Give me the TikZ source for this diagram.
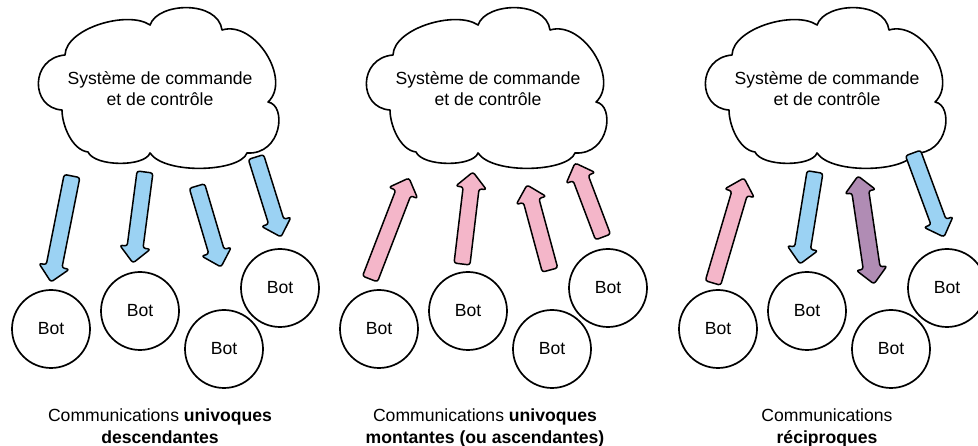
\documentclass[tikz,border=0pt]{standalone}
\usepackage{fontspec}
\setmainfont{Liberation Sans}
\usetikzlibrary{calc}
\definecolor{arrblue}{RGB}{155,210,243}
\definecolor{arrpink}{RGB}{244,182,201}
\definecolor{arrpurple}{RGB}{176,140,180}
\tikzset{
 cloudline/.style={draw=black, fill=white, line width=1.6pt, line join=round},
 botnode/.style={circle, draw=black, fill=white, line width=1.7pt, minimum size=78pt, inner sep=0pt, font=\fontsize{17.6}{21}\selectfont},
 txt/.style={font=\fontsize{17.6}{21}\selectfont, inner sep=0pt, anchor=base},
 barrow/.style={draw=black, line width=1.5pt, rounded corners=2.5pt, line join=round},
 bluearrow/.style={barrow, fill=arrblue},
 pinkarrow/.style={barrow, fill=arrpink},
 purplearrow/.style={barrow, fill=arrpurple},
}
\newcommand{\mycloud}[1]{%
\begin{scope}[xshift=#1pt]
\draw[cloudline] (65,55) .. controls (66,28) and (128,10) .. (150,25)
 .. controls (158,2) and (218,0) .. (222,30)
 .. controls (255,20) and (292,80) .. (268,102)
 .. controls (287,105) and (282,155) .. (247,153)
 .. controls (240,172) and (165,175) .. (150,153)
 .. controls (145,167) and (95,167) .. (88,152)
 .. controls (72,150) and (62,125) .. (62,110)
 .. controls (30,108) and (30,58) .. (65,55) -- cycle;
\end{scope}}
% single block arrow: style, tail, tip
\newcommand{\blockarrow}[3]{%
\coordinate (#2h) at ($(#3)!16pt!(#2)$);
\draw[#1] ($(#2)!8pt!90:(#3)$) -- ($(#2h)!8pt!90:(#3)$) -- ($(#2h)!15.5pt!90:(#3)$)
 -- (#3) -- ($(#2h)!15.5pt!-90:(#3)$) -- ($(#2h)!8pt!-90:(#3)$) -- ($(#2)!8pt!-90:(#3)$) -- cycle;}
% double block arrow: style, end1, end2
\newcommand{\dblarrow}[3]{%
\coordinate (#2h) at ($(#2)!16pt!(#3)$);
\coordinate (#3h) at ($(#3)!16pt!(#2)$);
\draw[#1] (#2) -- ($(#2h)!15.5pt!90:(#3)$) -- ($(#2h)!8.5pt!90:(#3)$) -- ($(#3h)!8.5pt!90:(#3)$)
 -- ($(#3h)!15.5pt!90:(#3)$) -- (#3) -- ($(#3h)!15.5pt!-90:(#3)$) -- ($(#3h)!8.5pt!-90:(#3)$)
 -- ($(#2h)!8.5pt!-90:(#3)$) -- ($(#2h)!15.5pt!-90:(#3)$) -- cycle;}
\begin{document}
\begin{tikzpicture}[x=1pt,y=-1pt]
\useasboundingbox[fill=white] (0,0) rectangle (978,446);
% ---------- clouds ----------
\mycloud{0}
\mycloud{328}
\mycloud{667}
\node[txt] (t1a) at (160,85) {Système de commande};
\node[txt] (t1b) at (160,106) {et de contrôle};
\node[txt] (t2a) at (488,85) {Système de commande};
\node[txt] (t2b) at (488,106) {et de contrôle};
\node[txt] (t3a) at (827,85) {Système de commande};
\node[txt] (t3b) at (827,106) {et de contrôle};
% ---------- bots ----------
\node[botnode] (b11) at (51,329) {Bot};
\node[botnode] (b12) at (140,311) {Bot};
\node[botnode] (b13) at (224,349) {Bot};
\node[botnode] (b14) at (280,288) {Bot};
\node[botnode] (b21) at (379,329) {Bot};
\node[botnode] (b22) at (468,311) {Bot};
\node[botnode] (b23) at (552,349) {Bot};
\node[botnode] (b24) at (608,288) {Bot};
\node[botnode] (b31) at (718,329) {Bot};
\node[botnode] (b32) at (807,311) {Bot};
\node[botnode] (b33) at (891,349) {Bot};
\node[botnode] (b34) at (947,288) {Bot};
% ---------- arrow end points ----------
\coordinate (a1s) at (72,176);  \coordinate (a1e) at (51,282);
\coordinate (a2s) at (145,172); \coordinate (a2e) at (133,263);
\coordinate (a3s) at (197,186); \coordinate (a3e) at (221,267);
\coordinate (a4s) at (256,157); \coordinate (a4e) at (281,237);
\coordinate (p1s) at (370,279); \coordinate (p1e) at (409,178);
\coordinate (p2s) at (462,264); \coordinate (p2e) at (473,172);
\coordinate (p3s) at (550,270); \coordinate (p3e) at (527,185);
\coordinate (p4s) at (603,237); \coordinate (p4e) at (575,163);
\coordinate (c1s) at (713,283); \coordinate (c1e) at (744,178);
\coordinate (c2s) at (815,172); \coordinate (c2e) at (800,264);
\coordinate (c3s) at (858,176); \coordinate (c3e) at (874,284);
\coordinate (c4s) at (913,153); \coordinate (c4e) at (944,237);
% ---------- arrows ----------
\blockarrow{bluearrow}{a1s}{a1e}
\blockarrow{bluearrow}{a2s}{a2e}
\blockarrow{bluearrow}{a3s}{a3e}
\blockarrow{bluearrow}{a4s}{a4e}
\blockarrow{pinkarrow}{p1s}{p1e}
\blockarrow{pinkarrow}{p2s}{p2e}
\blockarrow{pinkarrow}{p3s}{p3e}
\blockarrow{pinkarrow}{p4s}{p4e}
\blockarrow{pinkarrow}{c1s}{c1e}
\blockarrow{bluearrow}{c2s}{c2e}
\dblarrow{purplearrow}{c3s}{c3e}
\blockarrow{bluearrow}{c4s}{c4e}
% ---------- captions ----------
\node[txt] (k1a) at (160,422) {Communications \textbf{univoques}};
\node[txt] (k1b) at (160,443) {\textbf{descendantes}};
\node[txt] (k2a) at (485,422) {Communications \textbf{univoques}};
\node[txt] (k2b) at (485,443) {\textbf{montantes (ou ascendantes)}};
\node[txt] (k3a) at (827,422) {Communications};
\node[txt] (k3b) at (827,443) {\textbf{réciproques}};
\end{tikzpicture}
\end{document}
